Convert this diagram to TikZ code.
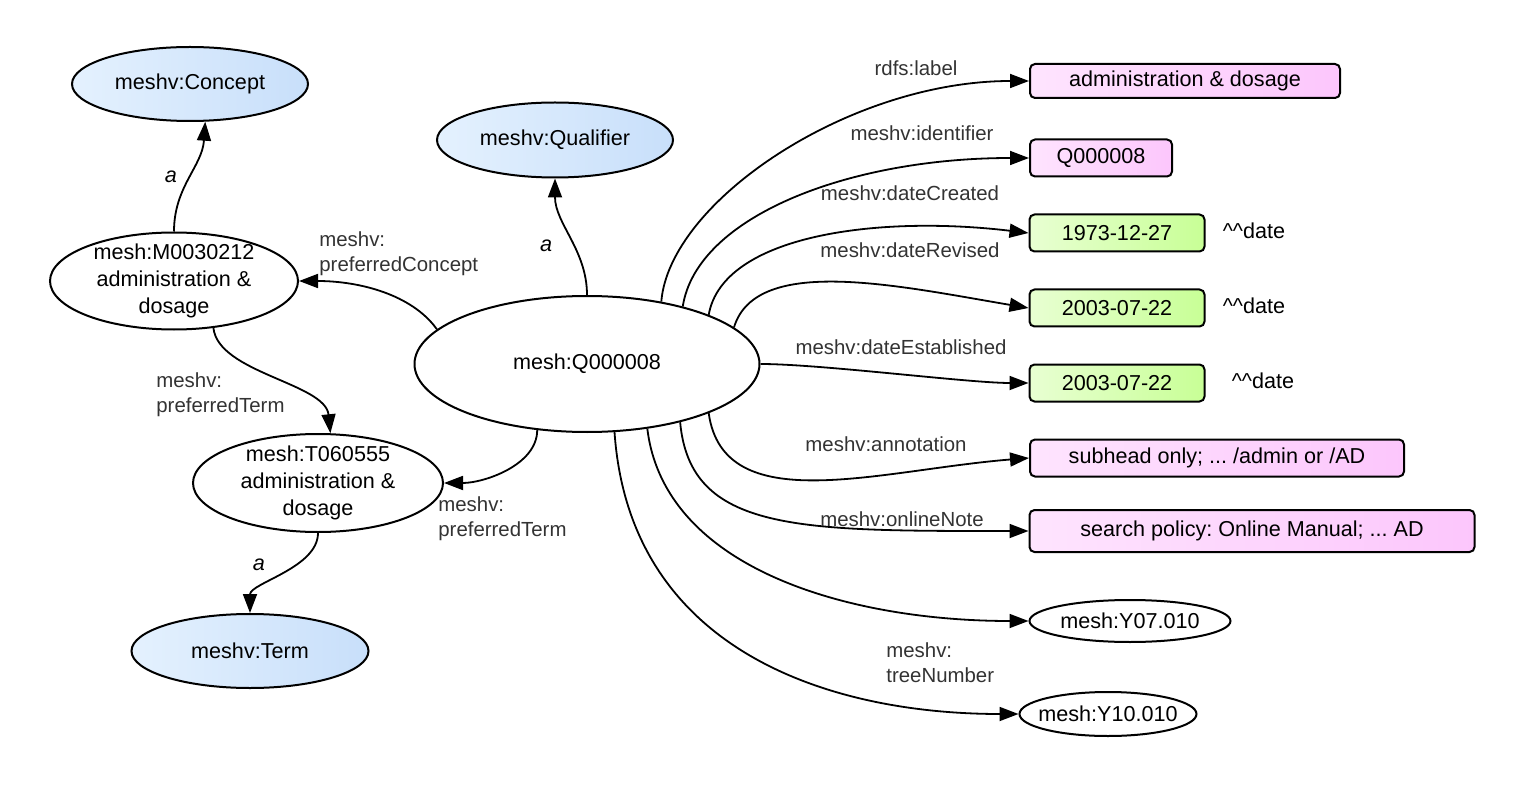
\documentclass[tikz,border=0pt]{standalone}
\usepackage{fontspec}
\setmainfont{Liberation Sans}
\frenchspacing
\usetikzlibrary{shapes.geometric,arrows.meta}
\definecolor{clsleft}{HTML}{E4F1FE}
\definecolor{clsright}{HTML}{C8DFFA}
\definecolor{strleft}{HTML}{FEE4FE}
\definecolor{strright}{HTML}{FCC6FC}
\definecolor{dateleft}{HTML}{E8FFD2}
\definecolor{dateright}{HTML}{C8FF96}
\definecolor{proptext}{HTML}{333333}
\tikzset{
  res/.style={ellipse,draw,line width=1pt,inner sep=0pt},
  cls/.style={res,left color=clsleft,right color=clsright},
  lit/.style={draw,line width=1pt,rounded corners=2.5pt,inner sep=0pt},
  strlit/.style={lit,left color=strleft,right color=strright},
  datelit/.style={lit,left color=dateleft,right color=dateright},
  rel/.style={line width=0.9pt,-{Triangle[length=9.5pt,width=7pt]}},
  prop/.style={text=proptext,font=\fontsize{10.2}{12.5}\selectfont,align=left,inner sep=0pt},
  isa/.style={font=\fontsize{10.8}{13}\selectfont\itshape,inner sep=0pt}
}
\begin{document}
\begin{tikzpicture}[x=0.5pt,y=-0.5pt,font=\fontsize{10.8}{13.5}\selectfont]
\useasboundingbox (0,0) rectangle (1526,791);
%
% resources and classes
\node[res,minimum width=172.5pt,minimum height=68pt,label={center:{mesh:Q000008}}] (qual) at (587,364) {};
\node[cls,minimum width=118pt,minimum height=37.5pt,label={center:{meshv:Qualifier}}] (qualcls) at (555,140) {};
\node[cls,minimum width=118pt,minimum height=37pt,label={center:{meshv:Concept}}] (conceptcls) at (190,84) {};
\node[cls,minimum width=118.5pt,minimum height=37pt,label={center:{meshv:Term}}] (termcls) at (250,651) {};
\node[res,minimum width=124pt,minimum height=48.5pt,
  label={[align=center]center:{mesh:M0030212\\administration \&\\dosage}}] (concept) at (174,281) {};
\node[res,minimum width=125pt,minimum height=49pt,
  label={[align=center]center:{mesh:T060555\\administration \&\\dosage}}] (term) at (318,483) {};
\node[res,minimum width=100.5pt,minimum height=21pt,label={center:{mesh:Y07.010}}] (tree1) at (1130,621) {};
\node[res,minimum width=88.5pt,minimum height=22pt,label={center:{mesh:Y10.010}}] (tree2) at (1108,714) {};
%
% literals
\node[strlit,minimum width=155pt,minimum height=17pt] (lbl) at (1185,81) {administration \& dosage};
\node[strlit,minimum width=71pt,minimum height=18.5pt] (ident) at (1101,158) {Q000008};
\foreach \n/\y/\d/\t in {created/233/1973-12-27/1254,revised/308/2003-07-22/1254,established/383/2003-07-22/1263}{
  \node[datelit,minimum width=87.5pt,minimum height=18.5pt] (\n) at (1117,\y) {\d};
  \node (\n-type) at (\t,\y-2) {\^{}\^{}date};
}
\node[strlit,minimum width=187pt,minimum height=18.5pt] (annot) at (1217,458) {subhead only; ... /admin or /AD};
\node[strlit,minimum width=222.5pt,minimum height=21pt] (onote) at (1252,531) {search policy: Online Manual; ... AD};
%
% relations
\draw[rel] (qual.north) .. controls +(0,-45) and +(0,45) .. (qualcls.south);
\draw[rel] (concept.north) .. controls +(0,-45) and +(-3,45) .. (conceptcls.-68);
\draw[rel] (term.south) .. controls +(0,35) and +(0,-30) .. (termcls.north);
\draw[rel] (qual.167) .. controls +(-25,-35) and +(60,0) .. (concept.east);
\draw[rel] (concept.-50) .. controls +(5,45) and +(-5,-50) .. (term.76);
\draw[rel] (qual.-127) .. controls +(0,35) and +(40,0) .. (term.east);
\draw[rel] (qual.40) .. controls +(8,-100) and +(-180,0) .. (lbl.west);
\draw[rel] (qual.31) .. controls +(14,-90) and +(-180,0) .. (ident.west);
\draw[rel] (qual.22) .. controls +(14,-80) and +(-150,-18) .. (created.west);
\draw[rel] (qual.14) .. controls +(22,-73) and +(-130,-22) .. (revised.west);
\draw[rel] (qual.east) .. controls +(60,0) and +(-60,0) .. (established.west);
\draw[rel] (qual.-22) .. controls +(15,107) and +(-150,12) .. (annot.west);
\draw[rel] (qual.-32) .. controls +(10,110) and +(-230,0) .. (onote.west);
\draw[rel] (qual.-47) .. controls +(17,140) and +(-180,0) .. (tree1.west);
\draw[rel] (qual.-68) .. controls +(15,218) and +(-190,0) .. (tree2.west);
%
% property names
\node[isa] (a1) at (171,177) {a};
\node[isa] (a2) at (546,246) {a};
\node[isa] (a3) at (259,565) {a};
\node[prop,anchor=west] (p-concept) at (319,254) {meshv:\\preferredConcept};
\node[prop,anchor=west] (p-term1) at (156,395) {meshv:\\preferredTerm};
\node[prop,anchor=west] (p-term2) at (438,519) {meshv:\\preferredTerm};
\node[prop] (p-label) at (916,68) {rdfs:label};
\node[prop] (p-ident) at (922,133) {meshv:identifier};
\node[prop] (p-created) at (910,193) {meshv:dateCreated};
\node[prop] (p-revised) at (910,250) {meshv:dateRevised};
\node[prop] (p-established) at (901,347) {meshv:dateEstablished};
\node[prop] (p-annot) at (886,444) {meshv:annotation};
\node[prop] (p-onote) at (902,519) {meshv:onlineNote};
\node[prop,anchor=west] (p-tree) at (886,663) {meshv:\\treeNumber};
\end{tikzpicture}
\end{document}
